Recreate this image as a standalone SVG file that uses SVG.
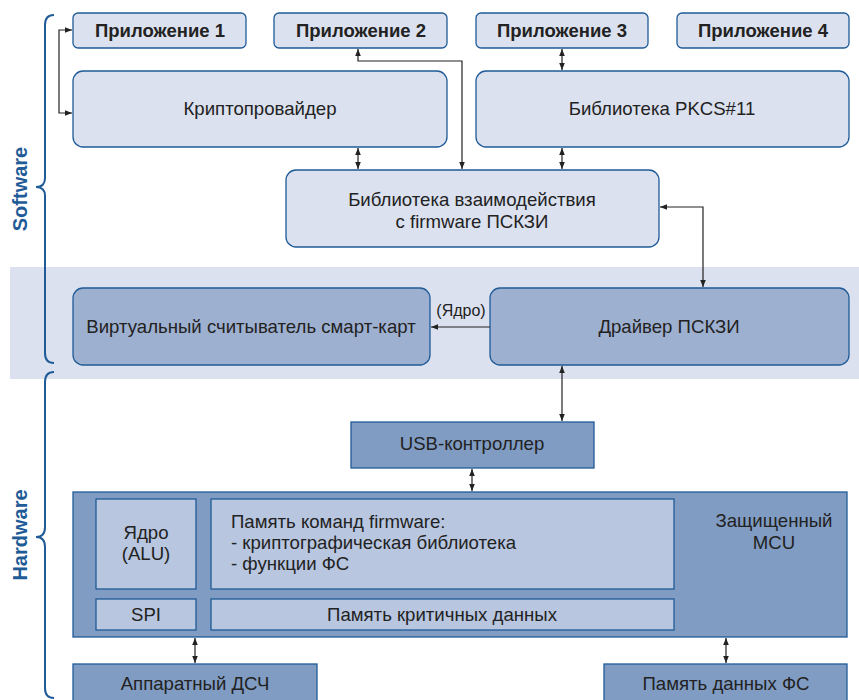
<svg xmlns="http://www.w3.org/2000/svg" width="859" height="700" viewBox="0 0 859 700">
<style>
text{font-family:"Liberation Sans",Arial,sans-serif;fill:#222;font-size:18.6px;text-anchor:middle;dominant-baseline:central}
.app{fill:#dbe1ef;stroke:#1f5b97;stroke-width:1.3}
.mid{fill:#9eb0d0;stroke:#1f5b97;stroke-width:1.3}
.dark{fill:#809cc3;stroke:#1f5b97;stroke-width:1.3}
.inner{fill:#b8c6e0;stroke:#1f5b97;stroke-width:1.3}
.b{font-weight:bold;font-size:18.5px}
.lbl{font-weight:bold;fill:#1f5b97;font-size:20px}
.c{fill:none;stroke:#222;stroke-width:1.2}
.brace{fill:none;stroke:#1f5b97;stroke-width:2}
</style>
<defs>
<marker id="ah" viewBox="0 0 10 10" refX="10" refY="5" markerWidth="7" markerHeight="7" orient="auto-start-reverse" markerUnits="userSpaceOnUse">
<path d="M0,1 L10,5 L0,9 z" fill="#222"/>
</marker>
</defs>
<rect x="10" y="267" width="849" height="112" fill="#dbe1ee"/>
<g id="braces">
<path class="brace" d="M54,15 Q45,15 45,25 L45,178 Q45,187 36,187 Q45,187 45,196 L45,353 Q45,363 54,363"/>
<path class="brace" d="M54,372 Q45,372 45,382 L45,527 Q45,537 36,537 Q45,537 45,547 L45,688 Q45,698 54,698"/>
<text class="lbl" transform="translate(20,189) rotate(-90)">Software</text>
<text class="lbl" transform="translate(20,535) rotate(-90)">Hardware</text>
</g>
<g id="app1"><rect class="app" x="73" y="13" width="173" height="35" rx="5"/><text class="b" x="160" y="30.5">Приложение 1</text></g>
<g id="app2"><rect class="app" x="274" y="13" width="173" height="35" rx="5"/><text class="b" x="361" y="30.5">Приложение 2</text></g>
<g id="app3"><rect class="app" x="476" y="13" width="172" height="35" rx="5"/><text class="b" x="562" y="30.5">Приложение 3</text></g>
<g id="app4"><rect class="app" x="677" y="13" width="172" height="35" rx="5"/><text class="b" x="763" y="30.5">Приложение 4</text></g>
<g id="crypto"><rect class="app" x="73" y="71" width="374" height="76" rx="10"/><text x="260" y="108">Криптопровайдер</text></g>
<g id="pkcs"><rect class="app" x="476" y="71" width="373" height="76" rx="10"/><text x="662" y="108">Библиотека PKCS#11</text></g>
<g id="interlib"><rect class="app" x="286" y="170" width="373" height="77" rx="10"/><text x="472" y="199">Библиотека взаимодействия</text><text x="472" y="221">с firmware ПСКЗИ</text></g>
<g id="vreader"><rect class="mid" x="73" y="288" width="357" height="77" rx="10"/><text x="251" y="326">Виртуальный считыватель смарт-карт</text></g>
<g id="driver"><rect class="mid" x="490" y="288" width="359" height="77" rx="10"/><text x="669" y="326">Драйвер ПСКЗИ</text></g>
<g id="usb"><rect class="dark" x="351" y="422" width="243" height="46"/><text x="472" y="443">USB-контроллер</text></g>
<g id="mcu"><rect class="dark" x="73" y="492" width="774" height="145"/><text x="774" y="520">Защищенный</text><text x="774" y="542">MCU</text></g>
<g id="alu"><rect class="inner" x="96" y="499" width="100" height="90"/><text x="146" y="532">Ядро</text><text x="146" y="553">(ALU)</text></g>
<g id="fwmem"><rect class="inner" x="211" y="499" width="463" height="90"/><text x="231" y="521" style="text-anchor:start">Память команд firmware:</text><text x="231" y="542" style="text-anchor:start">- криптографическая библиотека</text><text x="231" y="563" style="text-anchor:start">- функции ФС</text></g>
<g id="spi"><rect class="inner" x="96" y="599" width="100" height="31"/><text x="146" y="614">SPI</text></g>
<g id="critmem"><rect class="inner" x="211" y="599" width="463" height="31"/><text x="442" y="614">Память критичных данных</text></g>
<g id="rng"><rect class="dark" x="73" y="664" width="244" height="40"/><text x="195" y="683">Аппаратный ДСЧ</text></g>
<g id="fsmem"><rect class="dark" x="604" y="664" width="243" height="40"/><text x="726" y="683">Память данных ФС</text></g>
<g id="connectors">
<path class="c" d="M72,30 L59,30 L59,113 L72,113" marker-start="url(#ah)" marker-end="url(#ah)"/>
<path class="c" d="M358,49 L358,61 L462,61 L462,169" marker-start="url(#ah)" marker-end="url(#ah)"/>
<path class="c" d="M358,148 L358,169" marker-start="url(#ah)" marker-end="url(#ah)"/>
<path class="c" d="M562,49 L562,70" marker-start="url(#ah)" marker-end="url(#ah)"/>
<path class="c" d="M562,148 L562,169" marker-start="url(#ah)" marker-end="url(#ah)"/>
<path class="c" d="M660,207 L703,207 L703,287" marker-start="url(#ah)" marker-end="url(#ah)"/>
<path class="c" d="M490,327 L431,327" marker-end="url(#ah)"/>
<text x="461" y="310" style="font-size:16px">(Ядро)</text>
<path class="c" d="M562,366 L562,421" marker-start="url(#ah)" marker-end="url(#ah)"/>
<path class="c" d="M472,469 L472,491" marker-start="url(#ah)" marker-end="url(#ah)"/>
<path class="c" d="M195,638 L195,663" marker-start="url(#ah)" marker-end="url(#ah)"/>
<path class="c" d="M726,638 L726,663" marker-start="url(#ah)" marker-end="url(#ah)"/>
</g>
</svg>
